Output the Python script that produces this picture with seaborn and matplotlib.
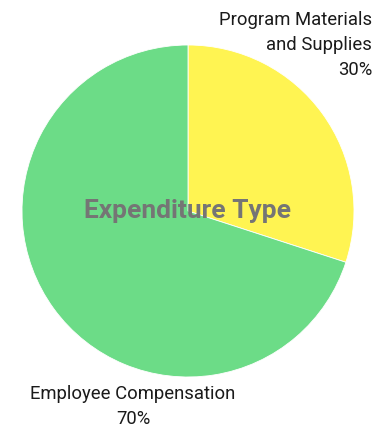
import matplotlib
matplotlib.use("Agg")
import matplotlib.pyplot as plt
import seaborn as sns

# Expenditure breakdown
categories = ["Program Materials\nand Supplies", "Employee Compensation"]
shares = [30, 70]
colors = ["#FFF452", "#6CDC87"]
title = "Expenditure Type"

sns.set_theme(style="white")
plt.rcParams["font.family"] = ["Roboto", "DejaVu Sans"]

W, H = 381, 428
fig = plt.figure(figsize=(W / 100, H / 100), dpi=100)
ax = fig.add_axes([0, 0, 1, 1])

cx, cy, r = 188, H - 211, 166
ax.pie(shares, colors=colors, startangle=90, counterclock=False,
       center=(cx, cy), radius=r, frame=True,
       wedgeprops=dict(edgecolor="white", linewidth=0.6))
ax.set_xlim(0, W)
ax.set_ylim(0, H)
ax.set_aspect("equal")
ax.axis("off")

ax.text(cx, cy, title, ha="center", va="center", fontsize=19,
        fontweight="bold", color="#757575")

ax.text(372, H - 11, f"{categories[0]}\n{shares[0]}%", ha="right", va="top",
        fontsize=13.3, color="#1a1a1a", linespacing=1.5)
ax.text(133, H - 385, f"{categories[1]}\n{shares[1]}%", ha="center", va="top",
        fontsize=13.3, color="#1a1a1a", linespacing=1.5)

fig.savefig("out.png", dpi=100, facecolor="white")
